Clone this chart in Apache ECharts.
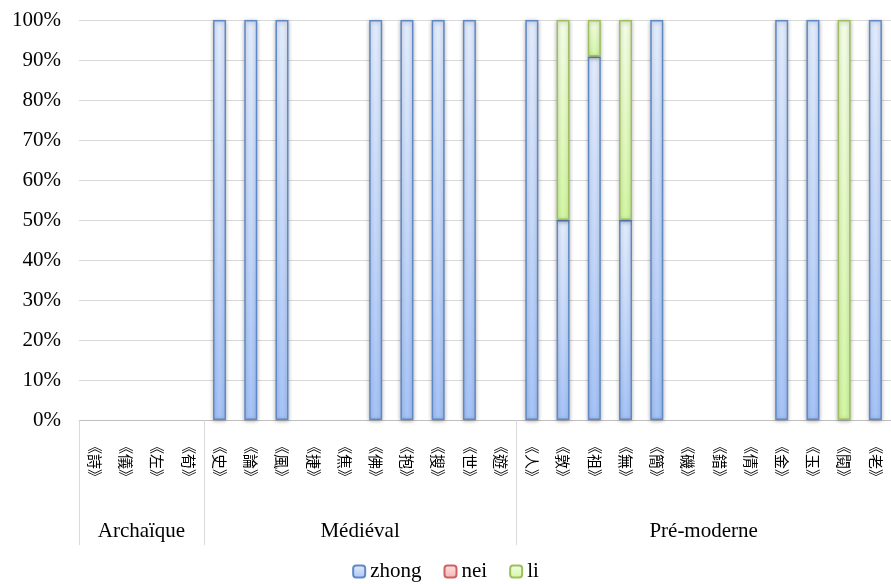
<!DOCTYPE html>
<html>
<head>
<meta charset="utf-8">
<script src="https://cdn.jsdelivr.net/npm/echarts@6/dist/echarts.min.js"></script>
<style>
html,body{margin:0;padding:0;background:#fff;}
#c{width:891px;height:584px;}
</style>
</head>
<body>
<div id="c"></div>
<script>
// ---- data ----
const categories = ['《詩》','《儀》','《左》','《荀》',
  '《史》','《論》','《風》','《捷》','《焦》','《佛》','《抱》','《搜》','《世》','《遊》',
  '《人》','《敦》','《祖》','《無》','《簡》','《磯》','《錯》','《倩》','《金》','《玉》','《閱》','《老》'];
const groupNames = ['Archaïque', 'Médiéval', 'Pré-moderne'];
const groupSizes = [4, 10, 12];
const zhong = [0,0,0,0, 100,100,100,0,0,100,100,100,100,0, 100,50,90.9,50,100,0,0,0,100,100,0,100];
const nei   = [0,0,0,0, 0,0,0,0,0,0,0,0,0,0, 0,0,0,0,0,0,0,0,0,0,0,0];
const li    = [0,0,0,0, 0,0,0,0,0,0,0,0,0,0, 0,50,9.1,50,0,0,0,0,0,0,100,0];
const yTicks = [0,10,20,30,40,50,60,70,80,90,100];

// group boundaries and centers
const bounds = [0];
groupSizes.forEach(s => bounds.push(bounds[bounds.length-1] + s));
const centers = groupSizes.map((s, i) => bounds[i] + s / 2);
const centerName = {};
centers.forEach((c, i) => centerName[c] = groupNames[i]);

// zero-height segments are not drawn (as in the original)
const hideZero = arr => arr.map(v => v === 0 ? '-' : v);

const serif = 'Liberation Serif';
function grad(top, mid, bottom) {
  return {type:'linear', x:0, y:0, x2:0, y2:1, colorStops:[{offset:0,color:top},{offset:0.5,color:mid},{offset:1,color:bottom}]};
}
const shadow = {shadowBlur:4, shadowColor:'rgba(0,0,0,0.3)', shadowOffsetX:0, shadowOffsetY:1};

const chart = echarts.init(document.getElementById('c'), null, {renderer:'canvas'});
chart.setOption({
  animation:false,
  grid:{left:79, right:-5, top:20, bottom:164, containLabel:false},
  legend:{
    bottom:-3, left:'center', itemWidth:12, itemHeight:12, itemGap:22,
    textStyle:{fontFamily:serif, fontSize:21, color:'#000'},
    data:['zhong','nei','li']
  },
  xAxis:[{
    type:'category', data:categories, position:'bottom',
    axisLine:{show:true, lineStyle:{color:'#bfbfbf', width:1}},
    axisTick:{show:false},
    axisLabel:{interval:0, rotate:-90, margin:19, fontFamily:'Noto Sans CJK TC', fontSize:15, color:'#000'}
  },{
    type:'value', min:0, max:bounds[bounds.length-1], position:'bottom', offset:0,
    axisLine:{show:false}, splitLine:{show:false},
    axisTick:{show:true, customValues:bounds, length:125, lineStyle:{color:'#d9d9d9', width:1}},
    axisLabel:{show:true, customValues:centers, margin:101, fontFamily:serif, fontSize:21, color:'#000',
      formatter: v => centerName[v] || ''}
  }],
  yAxis:{
    type:'value', min:0, max:100, interval:10,
    axisLine:{show:false}, axisTick:{show:false},
    axisLabel:{margin:18, fontFamily:serif, fontSize:21, color:'#000', formatter:'{value}%'},
    splitLine:{lineStyle:{color:'#d9d9d9', width:1}}
  },
  series:[
    {name:'zhong', type:'bar', stack:'t', data:hideZero(zhong), barWidth:13, xAxisIndex:0,
      itemStyle:Object.assign({color:grad('#e2ecfd','#c6d9fa','#a6c4f8'), borderColor:'#5f89c6', borderWidth:1.5}, shadow)},
    {name:'nei', type:'bar', stack:'t', data:hideZero(nei), barWidth:13, xAxisIndex:0,
      itemStyle:Object.assign({color:grad('#fde2e2','#f9cccc','#f5b0b0'), borderColor:'#c96464', borderWidth:1.5}, shadow)},
    {name:'li', type:'bar', stack:'t', data:hideZero(li), barWidth:13, xAxisIndex:0,
      itemStyle:Object.assign({color:grad('#f4fde6','#e4fac4','#d3f7a4'), borderColor:'#9dbf5e', borderWidth:1.5}, shadow)}
  ]
});
</script>
</body>
</html>
